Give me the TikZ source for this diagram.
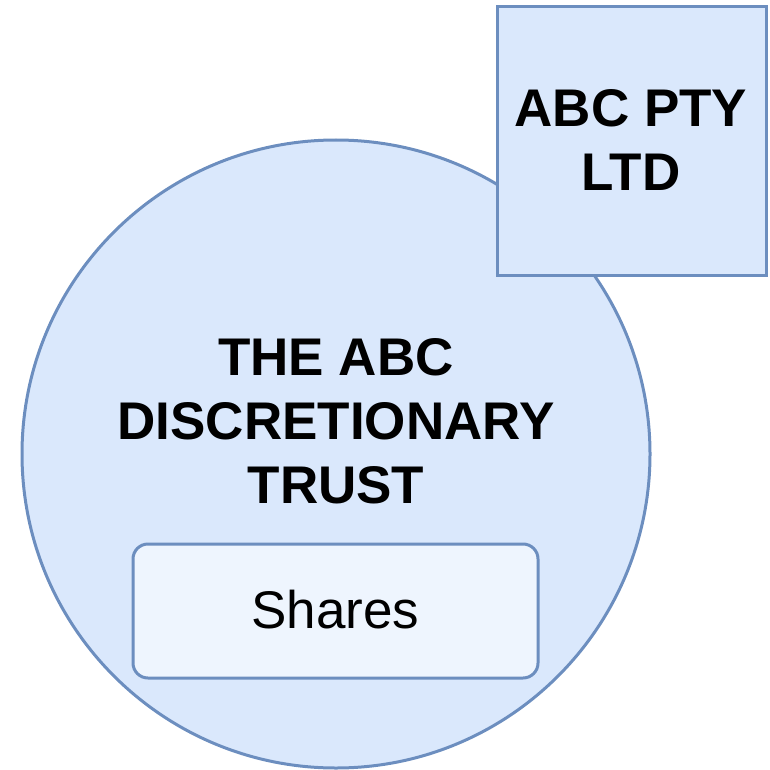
\documentclass[tikz,border=0pt]{standalone}
\usepackage{fontspec}
\setmainfont{Liberation Sans}
\begin{document}
\begin{tikzpicture}[x=1pt,y=-1pt,
  blueshape/.style={draw=strokeblue,fill=fillblue,line width=3pt},
  bigtext/.style={font=\fontsize{53}{64}\selectfont\bfseries,align=center,inner sep=0pt},
  plaintext/.style={font=\fontsize{53}{64}\selectfont,inner sep=0pt}]
\definecolor{strokeblue}{HTML}{6C8EBF}
\definecolor{fillblue}{HTML}{DAE8FC}
\definecolor{lightfill}{HTML}{EEF5FE}
\useasboundingbox (0,0) rectangle (769,770);
% trust circle
\draw[blueshape] (336,454) circle[radius=314];
\node[bigtext] (trust) at (336,421) {THE ABC\\DISCRETIONARY\\TRUST};
% shares holding
\draw[blueshape,fill=lightfill,rounded corners=15pt] (133,544) rectangle (538,678);
\node[plaintext] (shares) at (335.5,610) {Shares};
% company
\draw[blueshape] (497,7) rectangle (766,275);
\node[bigtext] (company) at (631,140) {ABC PTY\\LTD};
\end{tikzpicture}
\end{document}
